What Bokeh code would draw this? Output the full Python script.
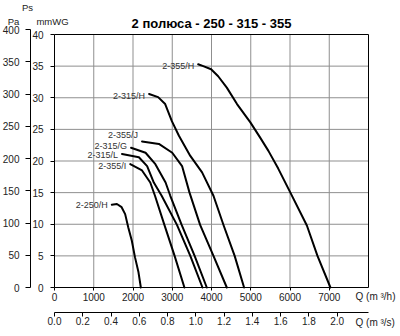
from bokeh.plotting import figure
from bokeh.models import (Range1d, LinearAxis, FixedTicker, NumeralTickFormatter,
                          ColumnDataSource)
from bokeh.core.properties import value
from bokeh.embed import file_html
from bokeh.resources import INLINE

# ---------------- data ----------------
TITLE = "2 полюса - 250 - 315 - 355"
UNIT_PS = "Ps"
UNIT_PA = "Pa"
UNIT_MMWG = "mmWG"
UNIT_QH = "Q (m ³/h)"
UNIT_QS = "Q (m ³/s)"

PA_PER_MMWG = 9.81
S_PER_H = 3600
Q_MAX_H = 8000          # m3/h at right edge of chart box
PS_MAX_MMWG = 40        # top of chart box
PS_MAX_PA = 400

q_ticks_h = [0, 1000, 2000, 3000, 4000, 5000, 6000, 7000]
q_grid_h = [1000, 2000, 3000, 4000, 5000, 6000, 7000]
q_ticks_s = [0.0, 0.2, 0.4, 0.6, 0.8, 1.0, 1.2, 1.4, 1.6, 1.8, 2.0]
ps_ticks_mmwg = [0, 5, 10, 15, 20, 25, 30, 35, 40]
ps_grid_mmwg = [5, 10, 15, 20, 25, 30, 35]
ps_ticks_pa = [0, 50, 100, 150, 200, 250, 300, 350, 400]

names = ["2-355/H", "2-315/H", "2-355/J", "2-315/G", "2-315/L", "2-355/I", "2-250/H"]

q_355H = [3660, 3790, 3990, 4170, 4390, 4650, 4990, 5240, 5450, 5700, 6010, 6430, 6700, 7030]
p_355H = [35.3, 35.0, 34.5, 33.4, 31.6, 29.0, 26.1, 23.7, 21.6, 18.8, 15.0, 9.8, 5.0, 0.0]

q_315H = [2410, 2640, 2820, 2990, 3170, 3460, 3760, 4050, 4310, 4590, 4830]
p_315H = [30.6, 30.1, 29.0, 26.3, 24.0, 20.8, 18.2, 14.5, 9.8, 5.0, 0.0]

q_355J = [2230, 2660, 3000, 3250, 3440, 3710, 4050, 4390]
p_355J = [23.1, 22.7, 21.3, 19.2, 15.0, 9.9, 5.0, 0.0]

q_315G = [1950, 2320, 2570, 2830, 2950, 3240, 3570, 3880]
p_315G = [22.1, 21.3, 19.5, 16.6, 14.5, 9.9, 5.0, 0.0]

q_315L = [1720, 2150, 2360, 2530, 2730, 3120, 3460, 3770]
p_315L = [21.1, 20.6, 19.2, 16.6, 14.5, 9.9, 5.0, 0.0]

q_355I = [1930, 2230, 2440, 2560, 2800, 3060, 3310]
p_355I = [19.5, 18.5, 16.6, 14.5, 9.9, 5.0, 0.0]

q_250H = [1460, 1590, 1710, 1800, 1880, 1970, 2050, 2140, 2200]
p_250H = [13.1, 13.2, 12.7, 11.6, 9.5, 7.4, 4.8, 2.4, 0.0]

curves_q = [q_355H, q_315H, q_355J, q_315G, q_315L, q_355I, q_250H]
curves_p = [p_355H, p_315H, p_355J, p_315G, p_315L, p_355I, p_250H]

# ---------------- layout (pixels, style only) ----------------
W, H = 400, 336
BOX_LEFT, BOX_RIGHT = 54, 368       # px of Q=0 and Q=Q_MAX_H
BOX_BOTTOM, BOX_TOP = 287, 34       # px of Ps=0 and Ps=PS_MAX_MMWG
PA_AXIS_PX = 30                     # px of the outer (Pa) axis line
QS_AXIS_PX = 311.5                  # px of the lower (m3/s) axis line
label_dy = [2, 2, -6, -2, 1, 2, 0]  # nudges of curve names

SX = (BOX_RIGHT - BOX_LEFT) / Q_MAX_H
SY = (BOX_BOTTOM - BOX_TOP) / PS_MAX_MMWG

FONT = "Liberation Sans"
TXT = "#222222"
GRID = "#8f8f8f"

x0, x1 = -BOX_LEFT / SX, (W - BOX_LEFT) / SX
y0, y1 = -(H - BOX_BOTTOM) / SY, BOX_BOTTOM / SY

p = figure(width=W, height=H, x_range=Range1d(x0, x1), y_range=Range1d(y0, y1),
           output_backend="svg", toolbar_location=None,
           min_border=0, min_border_left=0, min_border_right=0,
           min_border_top=0, min_border_bottom=0)
p.outline_line_color = None
p.background_fill_color = "white"
p.border_fill_color = "white"
p.xgrid.visible = False
p.ygrid.visible = False

p.extra_y_ranges = {"pa": Range1d(y0 * PA_PER_MMWG, y1 * PA_PER_MMWG)}
p.extra_x_ranges = {"qs": Range1d(x0 / S_PER_H, x1 / S_PER_H)}

def style_axis(ax, tick_out, standoff):
    ax.axis_line_color = "black"
    ax.major_tick_line_color = "black"
    ax.major_tick_out = tick_out
    ax.major_tick_in = 0
    ax.minor_tick_line_color = None
    ax.major_label_standoff = standoff
    ax.major_label_text_font = FONT
    ax.major_label_text_font_size = "10px"
    ax.major_label_text_color = TXT

# inner left axis (mmWG)
ya = p.yaxis[0]
ya.ticker = FixedTicker(ticks=ps_ticks_mmwg)
ya.bounds = (0, PS_MAX_MMWG)
ya.fixed_location = 0
style_axis(ya, 4, 7)

# outer left axis (Pa)
pa_axis = LinearAxis(y_range_name="pa", ticker=FixedTicker(ticks=ps_ticks_pa),
                     bounds=(0, PS_MAX_PA),
                     fixed_location=(PA_AXIS_PX - BOX_LEFT) / SX)
style_axis(pa_axis, 5, 6)
p.add_layout(pa_axis, "left")

# inner bottom axis (m3/h)
xa = p.xaxis[0]
xa.ticker = FixedTicker(ticks=q_ticks_h)
xa.bounds = (0, Q_MAX_H)
xa.fixed_location = 0
style_axis(xa, 3, 2)

# outer bottom axis (m3/s)
qs_axis = LinearAxis(x_range_name="qs", ticker=FixedTicker(ticks=q_ticks_s),
                     formatter=NumeralTickFormatter(format="0.0"),
                     bounds=(0, Q_MAX_H / S_PER_H),
                     fixed_location=-(QS_AXIS_PX - BOX_BOTTOM) / SY)
style_axis(qs_axis, 4, 1)
p.add_layout(qs_axis, "below")

# grid
p.segment(x0=q_grid_h, x1=q_grid_h, y0=0, y1=PS_MAX_MMWG,
          line_color=GRID, line_width=1)
p.segment(x0=0, x1=Q_MAX_H, y0=ps_grid_mmwg, y1=ps_grid_mmwg,
          line_color=GRID, line_width=1)
# chart box top / right
p.segment(x0=[0, Q_MAX_H], x1=[Q_MAX_H, Q_MAX_H],
          y0=[PS_MAX_MMWG, 0], y1=[PS_MAX_MMWG, PS_MAX_MMWG],
          line_color="black", line_width=1)

# curves
for q, ps in zip(curves_q, curves_p):
    p.line(q, ps, line_color="black", line_width=2, line_join="round", line_cap="round")

lab_src = ColumnDataSource(dict(x=[c[0] for c in curves_q],
                                y=[c[0] for c in curves_p],
                                name=names, dy=label_dy))
p.text(x="x", y="y", text="name", source=lab_src, text_align="right",
       text_baseline="middle", x_offset=-4, y_offset="dy", text_font=value(FONT),
       text_font_size="9px", text_color="#333333")

# title and unit texts (anchored to chart box corners, offsets in px)
p.text(x=[Q_MAX_H / 2], y=[PS_MAX_MMWG], text=[TITLE], text_align="center",
       text_baseline="middle", y_offset=-11, text_font=value(FONT),
       text_font_size="13px", text_font_style="bold", text_color="black")
p.text(x=[0, 0, 0], y=[PS_MAX_MMWG] * 3, text=[UNIT_PS, UNIT_PA, UNIT_MMWG],
       x_offset=[-27, -41, -2], y_offset=[-27, -13, -13],
       text_align="center", text_baseline="middle", text_font=value(FONT),
       text_font_size="9.5px", text_color=TXT)
p.text(x=[Q_MAX_H, Q_MAX_H], y=[0, 0], text=[UNIT_QH, UNIT_QS],
       x_offset=-13, y_offset=[9, 35],
       text_align="left", text_baseline="middle", text_font=value(FONT),
       text_font_size="10px", text_color=TXT)

open("out.html", "w").write(file_html(p, INLINE))
